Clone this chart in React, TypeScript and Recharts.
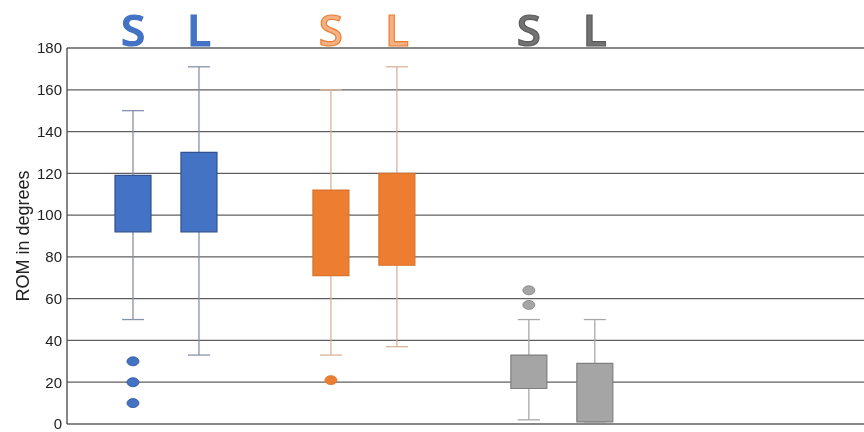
import { ComposedChart, Bar, Scatter, XAxis, YAxis, CartesianGrid, Cell } from "recharts";

const letters = ["S", "L", "S", "L", "S", "L"];
const positions = [1, 2, 4, 5, 7, 8];
const whiskerLow = [50, 33, 33, 37, 2, 1];
const whiskerHigh = [150, 171, 160, 171, 50, 50];
const boxLow = [92, 92, 71, 76, 17, 1];
const boxHigh = [119, 130, 112, 120, 33, 29];

const outlierGroup = [0, 0, 0, 2, 4, 4];
const outlierValue = [30, 20, 10, 21, 64, 57];

const yTicks = [0, 20, 40, 60, 80, 100, 120, 140, 160, 180];

const boxFill = ["#4472C4", "#4472C4", "#ED7D31", "#ED7D31", "#A5A5A5", "#A5A5A5"];
const boxStroke = ["#2F528F", "#2F528F", "#D9732C", "#D9732C", "#7F7F7F", "#7F7F7F"];
const whiskerColor = ["#8792AE", "#8792AE", "#D8B39A", "#D8B39A", "#A8A8A8", "#A8A8A8"];
const letterFill = ["#4472C4", "#4472C4", "#F4B183", "#F4B183", "#737373", "#737373"];
const letterStroke = ["#4472C4", "#4472C4", "#ED7D31", "#ED7D31", "#5A5A5A", "#5A5A5A"];

const data = positions.map((x, i) => ({
  x,
  box: [boxLow[i], boxHigh[i]],
  whisker: [whiskerLow[i], whiskerHigh[i]],
  idx: i,
}));

const outliers = outlierGroup.map((g, i) => ({ x: positions[g], y: outlierValue[i], idx: g }));

const xDomain = [0, 12.08];

function Whisker(props: any) {
  const { x, y, width, height, payload } = props;
  const cx = x + width / 2;
  const color = whiskerColor[payload.idx];
  const cap = 11;
  return (
    <g stroke={color} strokeWidth={1.3}>
      <line x1={cx} x2={cx} y1={y} y2={y + height} />
      <line x1={cx - cap} x2={cx + cap} y1={y} y2={y} />
      <line x1={cx - cap} x2={cx + cap} y1={y + height} y2={y + height} />
    </g>
  );
}

function Dot(props: any) {
  const { cx, cy, payload } = props;
  return <ellipse cx={cx} cy={cy} rx={6} ry={4.5} fill={boxFill[payload.idx]} stroke={boxStroke[payload.idx]} strokeWidth={0.8} />;
}

function LetterTick(props: any) {
  const { x, y, index } = props;
  return (
    <text
      x={x}
      y={y + 6}
      textAnchor="middle"
      fontFamily="Open Sans"
      fontWeight={600}
      fontSize={44}
      fill={letterFill[index]}
      stroke={letterStroke[index]}
      strokeWidth={1.2}
    >
      {letters[index]}
    </text>
  );
}

export default function App() {
  return (
    <div style={{ position: "fixed", left: 0, top: 0, width: 864, height: 432 }}>
      <ComposedChart width={864} height={432} data={data} margin={{ top: 0, right: 0, bottom: 8, left: 0 }}>
        <CartesianGrid vertical={false} stroke="#5f5f5f" strokeWidth={1.3} />
        <XAxis
          xAxisId="top"
          orientation="top"
          type="number"
          dataKey="x"
          domain={xDomain}
          ticks={positions}
          height={48}
          axisLine={false}
          tickLine={false}
          tick={<LetterTick />}
          interval={0}
        />
        <XAxis xAxisId="box" type="number" dataKey="x" domain={xDomain} hide />
        <YAxis
          domain={[0, 180]}
          ticks={yTicks}
          interval={0}
          width={67}
          axisLine={{ stroke: "#444", strokeWidth: 1.3 }}
          tickLine={false}
          tickSize={3}
          tickMargin={2}
          tick={{ fontSize: 15, fill: "#222", fontFamily: "Liberation Sans" }}
          label={{
            value: "ROM in degrees",
            angle: -90,
            position: "insideLeft",
            dx: 18,
            style: { textAnchor: "middle", fontSize: 18, fill: "#222", fontFamily: "Liberation Sans" },
          }}
        />
        <Bar xAxisId="top" dataKey="whisker" barSize={36} shape={<Whisker />} isAnimationActive={false} />
        <Bar xAxisId="box" dataKey="box" barSize={36} isAnimationActive={false}>
          {data.map((d, i) => (
            <Cell key={i} fill={boxFill[i]} stroke={boxStroke[i]} strokeWidth={1.2} />
          ))}
        </Bar>
        <Scatter xAxisId="box" data={outliers} dataKey="y" shape={<Dot />} isAnimationActive={false} />
      </ComposedChart>
    </div>
  );
}
